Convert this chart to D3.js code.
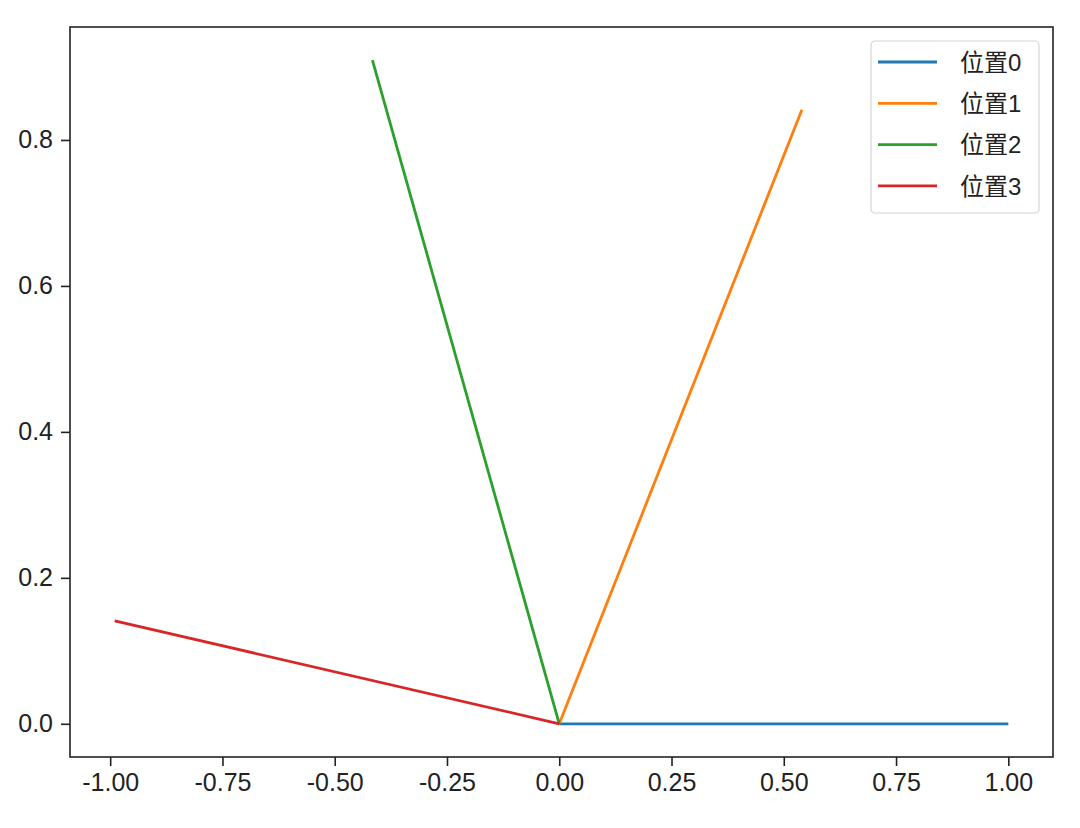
<!DOCTYPE html>
<html>
<head>
<meta charset="utf-8">
<script src="https://cdn.jsdelivr.net/npm/d3@7"></script>
<style>
  body { margin: 0; background: #fff; }
  text { font-family: "Liberation Sans", Arial, "Noto Sans CJK SC", sans-serif; }
</style>
</head>
<body>
<div id="chart"></div>
<script>
// each series is a segment from the origin to one point
const seriesNames = ['位置0', '位置1', '位置2', '位置3'];
const seriesX = [[0, 1.0], [0, 0.5403], [0, -0.4161], [0, -0.99]];
const seriesY = [[0, 0.0], [0, 0.8415], [0, 0.9093], [0, 0.1411]];
const colors = ['#1f77b4', '#ff7f0e', '#2ca02c', '#d62728'];
const xTicks = [-1.0, -0.75, -0.5, -0.25, 0.0, 0.25, 0.5, 0.75, 1.0];
const yTicks = [0.0, 0.2, 0.4, 0.6, 0.8];

const W = 1080, H = 828;
const mLeft = 70, mRight = 1053, mTop = 27, mBottom = 757;

const svg = d3.select('#chart').append('svg')
  .attr('width', W).attr('height', H);

const x = d3.scaleLinear().domain([-1.0895, 1.0995]).range([mLeft, mRight]);
const y = d3.scaleLinear().domain([-0.0455, 0.9548]).range([mBottom, mTop]);

// lines
const line = d3.line().x(d => x(d[0])).y(d => y(d[1]));
seriesNames.forEach((name, i) => {
  const pts = seriesX[i].map((v, j) => [v, seriesY[i][j]]);
  svg.append('path')
    .datum(pts)
    .attr('d', line)
    .attr('fill', 'none')
    .attr('stroke', colors[i])
    .attr('stroke-width', 2.8);
});

// plain hyphen for negatives, like the original
const fmt = f => v => d3.format(f)(v).replace('\u2212', '-');

// axes
const xAxis = svg.append('g')
  .attr('transform', 'translate(0,' + mBottom + ')')
  .call(d3.axisBottom(x).tickValues(xTicks).tickFormat(fmt('.2f')).tickSize(9).tickPadding(7));
const yAxis = svg.append('g')
  .attr('transform', 'translate(' + mLeft + ',0)')
  .call(d3.axisLeft(y).tickValues(yTicks).tickFormat(fmt('.1f')).tickSize(9).tickPadding(8));
[xAxis, yAxis].forEach(g => {
  g.select('.domain').remove();
  g.selectAll('line').attr('stroke', '#222').attr('stroke-width', 1.6);
  g.selectAll('text').attr('font-size', 25).attr('fill', '#222')
    .attr('font-family', '"Liberation Sans", Arial, sans-serif');
});

// frame
svg.append('rect')
  .attr('x', mLeft).attr('y', mTop)
  .attr('width', mRight - mLeft).attr('height', mBottom - mTop)
  .attr('fill', 'none').attr('stroke', '#222').attr('stroke-width', 1.6);

// legend
const leg = svg.append('g').attr('transform', 'translate(871,41)');
leg.append('rect')
  .attr('width', 168).attr('height', 172).attr('rx', 4)
  .attr('fill', '#fff').attr('fill-opacity', 0.8)
  .attr('stroke', '#d6d6d6').attr('stroke-width', 1.2);
seriesNames.forEach((name, i) => {
  const row = leg.append('g').attr('transform', 'translate(0,' + (21 + i * 41.3) + ')');
  row.append('line')
    .attr('x1', 7).attr('x2', 66)
    .attr('stroke', colors[i]).attr('stroke-width', 2.8);
  row.append('text')
    .attr('x', 89).attr('dy', '0.36em')
    .attr('font-size', 24).attr('fill', '#222')
    .attr('font-family', '"Liberation Sans", Arial, "Noto Sans CJK SC", sans-serif')
    .text(name);
});
</script>
</body>
</html>
